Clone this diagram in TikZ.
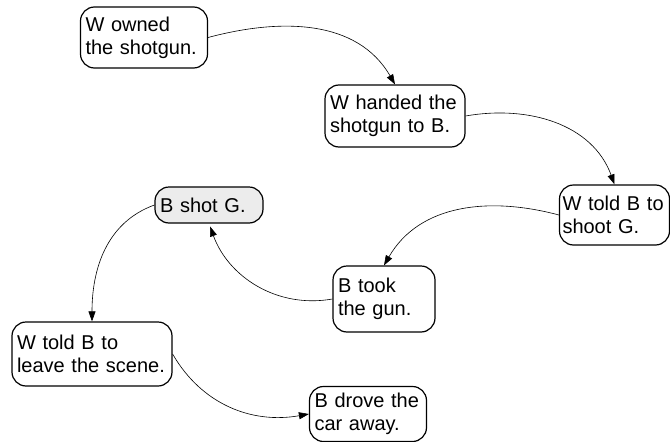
\documentclass[tikz,border=0pt]{standalone}
\usepackage{fontspec}
\setmainfont{Liberation Sans}
\usetikzlibrary{positioning, arrows.meta}
\tikzset{
event/.style={draw, line width=1.2pt, rounded corners=14pt, align=left, inner xsep=5pt, inner ysep=3pt, font=\fontsize{20}{23}\selectfont}, % rounded box for one event
shot/.style={event, fill=gray!15}, % the shaded event
flow/.style={->, >={Triangle[length=10pt,width=7pt]}, line width=0.6pt}, % thin arrows between events
}
\begin{document}
\begin{tikzpicture}[x=1pt,y=1pt,on grid]
\useasboundingbox (0,0) rectangle (670,-442);
\node[event, text width=117pt, minimum height=61pt] (owned) at (144,-37.5) {W owned\\the shotgun.};
\node[event, text width=130pt, minimum height=62pt] (handed) [below right=78.5pt and 251pt of owned] {W handed the\\shotgun to B.};
\node[event, inner xsep=3pt, text width=104pt, minimum height=60pt] (told) [below right=99pt and 219.5pt of handed] {W told B to\\shoot G.};
\node[event, text width=92pt, minimum height=66pt] (took) [below left=84pt and 230.5pt of told] {B took\\the gun.};
\node[shot, text width=98pt, minimum height=36pt] (shot) [above left=94pt and 175pt of took] {B shot G.};
\node[event, text width=150pt, minimum height=64pt] (leave) [below left=149pt and 117pt of shot] {W told B to\\leave the scene.};
\node[event, text width=107pt, minimum height=55pt] (drove) [below right=60pt and 276pt of leave] {B drove the\\car away.};
\path[flow] (owned.east) edge [out=15, in=120] (handed.north)
(handed.east) edge [out=10, in=110] (told.north)
(told.west) edge [out=165, in=60] (took.north)
(took.west) edge [out=190, in=-70, shorten >=3pt] (shot.south)
(shot.west) edge [out=200, in=90] (leave.north)
(leave.east) edge [out=-60, in=190] (drove.west);
\end{tikzpicture}
\end{document}
